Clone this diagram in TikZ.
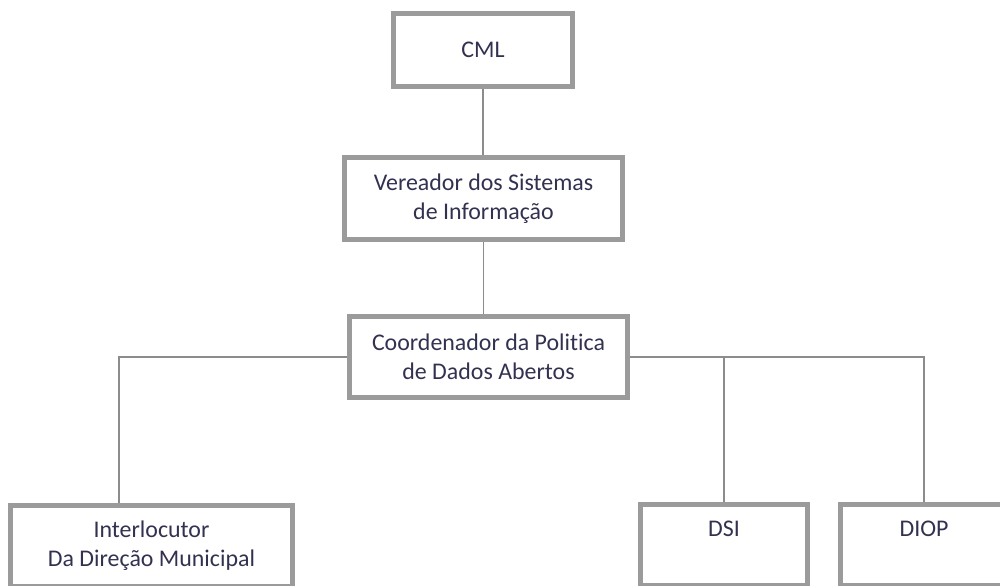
\documentclass[tikz,border=0pt]{standalone}
\usepackage{fontspec}
\setmainfont[Ligatures=NoCommon]{Carlito}
\definecolor{boxgray}{RGB}{155,155,155}
\definecolor{linegray}{RGB}{140,140,140}
\definecolor{txtcol}{RGB}{50,50,80}
\begin{document}
\begin{tikzpicture}[
	orgbox/.style={draw=boxgray, line width=0.1cm, fill=white, align=center, text=txtcol, font=\fontsize{13.6}{16.5}\selectfont},
	toplabel/.style={anchor=base, yshift=-0.69cm, align=center, text=txtcol, font=\fontsize{13.6}{16.5}\selectfont},
	orgline/.style={draw=linegray, line width=0.03cm}]
	\useasboundingbox (0,0) rectangle (20,-11.72);
	\clip (0,0) rectangle (20,-11.72);
	% Boxes
	\node [orgbox, minimum width=3.58cm, minimum height=1.46cm] (cml) at (9.66,-1.0) {CML};
	\node [orgbox, minimum width=5.56cm, minimum height=1.64cm] (vereador) at (9.67,-3.97) {Vereador dos Sistemas\\de Informação};
	\node [orgbox, minimum width=5.56cm, minimum height=1.62cm] (coord) at (9.77,-7.14) {Coordenador da Politica\\de Dados Abertos};
	\node [orgbox, minimum width=5.64cm, minimum height=1.62cm, label={[toplabel, yshift=-0.58cm]north:Interlocutor\\Da Direção Municipal}] (inter) at (3.03,-10.92) {};
	\node [orgbox, minimum width=3.34cm, minimum height=1.62cm, label={[toplabel]north:DSI}] (dsi) at (14.48,-10.90) {};
	\node [orgbox, minimum width=3.34cm, minimum height=1.62cm, label={[toplabel]north:DIOP}] (diop) at (18.48,-10.90) {};
	% Lines
	\draw [orgline] (cml.south) -- (cml.south |- vereador.north);
	\draw [orgline] (vereador.south) -- (vereador.south |- coord.north);
	\draw [orgline] (coord.west) -| ([xshift=-0.65cm]inter.north);
	\draw [orgline] (coord.east) -| (diop.north);
	\draw [orgline] (coord.east -| dsi.north) -- (dsi.north);
\end{tikzpicture}
\end{document}
